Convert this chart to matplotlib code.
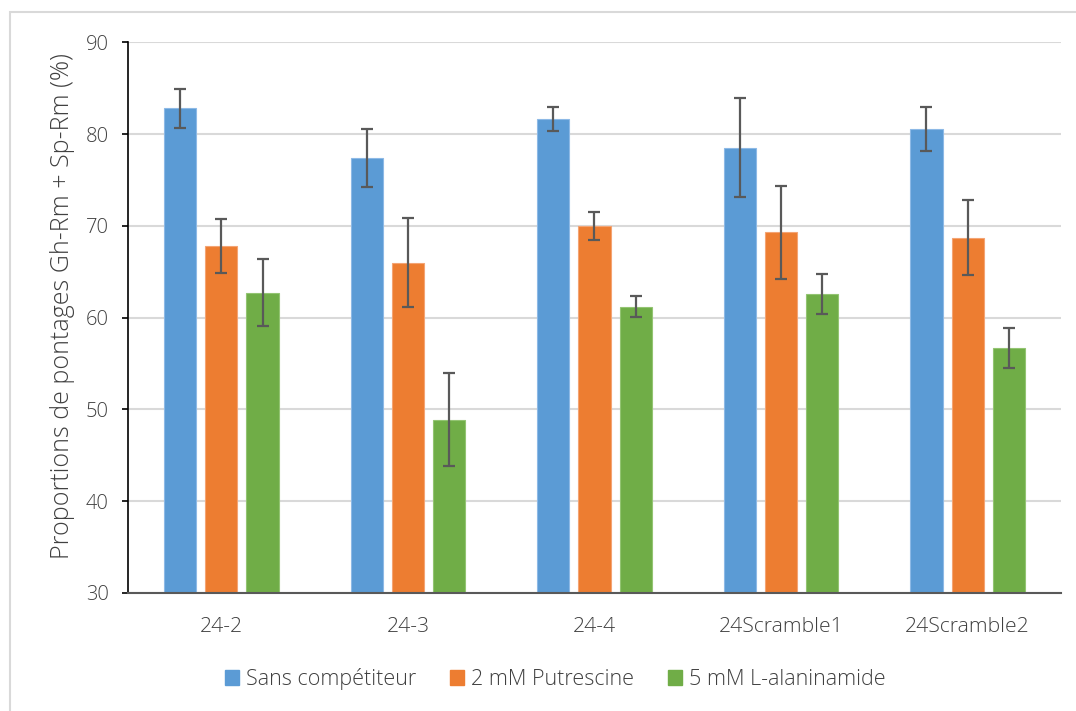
import matplotlib.pyplot as plt
import matplotlib.patches as mpatches
import numpy as np

plt.rcParams['font.family'] = ['Open Sans', 'DejaVu Sans']

# Donnees
categories = ["24-2", "24-3", "24-4", "24Scramble1", "24Scramble2"]
series = ["Sans compétiteur", "2 mM Putrescine", "5 mM L-alaninamide"]
sans_comp = [82.8, 77.4, 81.6, 78.5, 80.6]
putrescine = [67.8, 66.0, 70.0, 69.3, 68.7]
alaninamide = [62.7, 48.9, 61.2, 62.6, 56.7]
err_sans = [2.1, 3.2, 1.3, 5.4, 2.4]
err_put = [2.9, 4.85, 1.5, 5.05, 4.1]
err_ala = [3.65, 5.1, 1.15, 2.15, 2.2]

valeurs = [sans_comp, putrescine, alaninamide]
erreurs = [err_sans, err_put, err_ala]
couleurs = ["#5B9BD5", "#ED7D31", "#70AD47"]
bords = ["#8DB9E6", "#F4A474", "#93C472"]

fig = plt.figure(figsize=(10.76, 7.11), dpi=100)
ax = fig.add_axes([0.119, 0.166, 0.867, 0.7745])

x = np.arange(len(categories))
pas = 0.221
largeur = 0.173
for i in range(3):
    ax.bar(x + (i - 1) * pas, valeurs[i], largeur, bottom=0, color=couleurs[i],
           edgecolor=bords[i], linewidth=0.8, zorder=2)
    ax.errorbar(x + (i - 1) * pas, valeurs[i], yerr=erreurs[i], fmt="none",
                ecolor="#595959", elinewidth=1.6, capsize=4.3, capthick=1.6, zorder=3)

ax.set_ylim(30, 90)
ax.set_xlim(-0.5, len(categories) - 0.5)
ax.set_yticks(range(30, 91, 10))
ax.set_xticks(x)
ax.set_xticklabels(categories)
ax.yaxis.grid(True, color="#D9D9D9", linewidth=1.5, zorder=0)
ax.set_axisbelow(True)

for s in ["top", "right"]:
    ax.spines[s].set_visible(False)
ax.spines["left"].set_color("black")
ax.spines["left"].set_linewidth(1.2)
ax.spines["bottom"].set_color("#595959")
ax.spines["bottom"].set_linewidth(1.5)
ax.spines["bottom"].set_zorder(4)

ax.tick_params(axis="y", length=4, width=1.2, color="black", labelsize=14.5,
               labelcolor="#404040", pad=10)
ax.tick_params(axis="x", length=0, labelsize=15.2, labelcolor="#404040", pad=17)
for t in ax.get_xticklabels() + ax.get_yticklabels():
    t.set_fontweight("light")
ax.set_ylabel("Proportions de pontages Gh-Rm + Sp-Rm (%)", fontsize=18,
              color="#404040", fontweight="light")
ax.yaxis.set_label_coords(-0.057, 0.521)

# Legende
poignees = [mpatches.Patch(color=c, label=s) for c, s in zip(couleurs, series)]
fig.legend(handles=poignees, loc="center", bbox_to_anchor=(0.516, 1 - 679 / 711),
           ncol=3, frameon=False, prop={"size": 15.5, "weight": "light"},
           handlelength=0.65, handleheight=0.65,
           handletextpad=0.3, columnspacing=1.6, labelcolor="#404040")

# Cadre du graphique
cadre = mpatches.Rectangle((10 / 1076, -0.1), 1.2, 1 - 12 / 711 + 0.1,
                           transform=fig.transFigure, fill=False,
                           edgecolor="#D9D9D9", linewidth=1.5)
fig.patches.append(cadre)

fig.savefig("out.png", dpi=100)
